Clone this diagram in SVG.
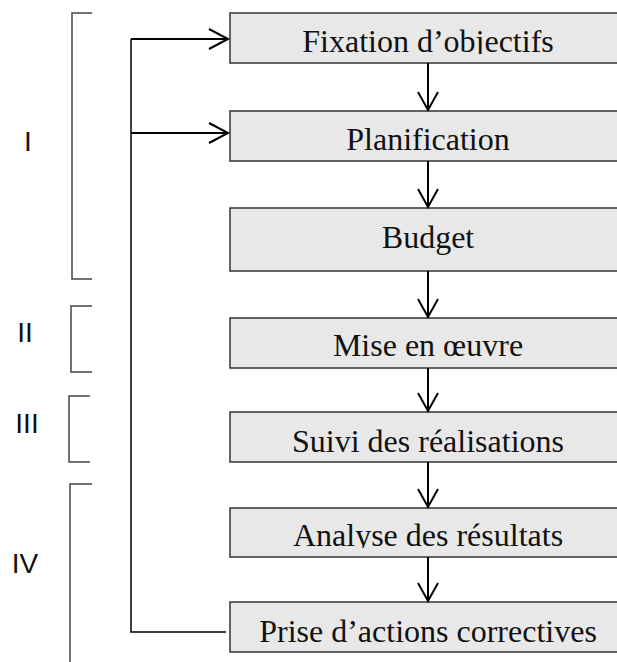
<svg xmlns="http://www.w3.org/2000/svg" width="617" height="662" viewBox="0 0 617 662">
<style>
.box{fill:#e8e8e8;stroke:#333;stroke-width:1.5}
.t{font-family:"Liberation Serif","Times New Roman",serif;font-size:32px;fill:#111;text-anchor:middle}
.lab{font-family:"Liberation Sans",Arial,sans-serif;font-size:28px;fill:#111;text-anchor:middle}
.br{fill:none;stroke:#444;stroke-width:1.5}
.ar{fill:none;stroke:#000;stroke-width:2}
.fb{fill:none;stroke:#000;stroke-width:1.5}
</style>
<defs>
<clipPath id="c1"><rect x="230" y="13" width="400" height="41"/></clipPath>
<clipPath id="c6"><rect x="230" y="508" width="400" height="40"/></clipPath>
</defs>
<rect width="617" height="662" fill="#fff"/>
<g id="brackets">
<path class="br" d="M92 13H72V279H92"/>
<path class="br" d="M92 306H71V372H92"/>
<path class="br" d="M90 396H69V462H90"/>
<path class="br" d="M92 484H70V662"/>
</g>
<g id="labels">
<text class="lab" x="28" y="151">I</text>
<text class="lab" x="25" y="342">II</text>
<text class="lab" x="27" y="433">III</text>
<text class="lab" x="25" y="573">IV</text>
</g>
<g id="n1"><rect class="box" x="230" y="13" width="400" height="50"/><text class="t" x="428" y="52" clip-path="url(#c1)">Fixation d’objectifs</text></g>
<g id="n2"><rect class="box" x="230" y="111" width="400" height="50"/><text class="t" x="428" y="150">Planification</text></g>
<g id="n3"><rect class="box" x="230" y="208" width="400" height="63"/><text class="t" x="428" y="248">Budget</text></g>
<g id="n4"><rect class="box" x="230" y="318" width="400" height="50"/><text class="t" x="428" y="356">Mise en œuvre</text></g>
<g id="n5"><rect class="box" x="230" y="412" width="400" height="50"/><text class="t" x="428" y="452">Suivi des réalisations</text></g>
<g id="n6"><rect class="box" x="230" y="508" width="400" height="49"/><text class="t" x="428" y="546" clip-path="url(#c6)">Analyse des résultats</text></g>
<g id="n7"><rect class="box" x="230" y="602" width="400" height="50"/><text class="t" x="428" y="642">Prise d’actions correctives</text></g>
<g id="connectors">
<path class="ar" d="M428 63V110M418 92L428 110L438 92"/>
<path class="ar" d="M428 161V207M418 189L428 207L438 189"/>
<path class="ar" d="M428 271V317M418 299L428 317L438 299"/>
<path class="ar" d="M428 368V411M418 393L428 411L438 393"/>
<path class="ar" d="M428 462V507M418 489L428 507L438 489"/>
<path class="ar" d="M428 557V601M418 583L428 601L438 583"/>
<path class="fb" d="M226 632H131V39"/>
<path class="ar" d="M131 39H228M209 29L228 39L209 49"/>
<path class="ar" d="M131 133H228M209 123L228 133L209 143"/>
</g>
</svg>
